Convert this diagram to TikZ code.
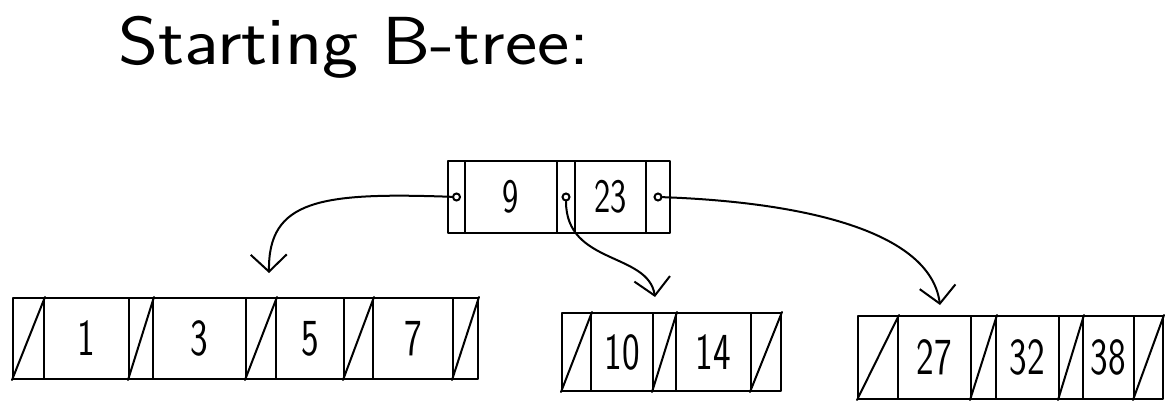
\documentclass[tikz,border=0pt]{standalone}
\usepackage{graphicx}
\usetikzlibrary{arrows.meta}
\newcommand\hdig[1]{\scalebox{0.72}[1]{#1}}
\begin{document}
\begin{tikzpicture}[x=1pt,y=-1pt,
  hand/.style={line width=2pt, line cap=round, line join=round},
  cellbox/.style={draw, hand, rectangle, anchor=north west, inner sep=0pt,
    font=\sffamily\fontsize{52}{52}\selectfont},
  rootcell/.style={cellbox, minimum height=72pt, font=\sffamily\fontsize{48}{48}\selectfont},
  leafa/.style={cellbox, minimum height=81pt},
  leafb/.style={cellbox, minimum height=78pt},
  leafc/.style={cellbox, minimum height=83pt},
  dotc/.style={draw, circle, line width=2pt, inner sep=0pt, minimum size=7pt},
  link/.style={hand, -{Straight Barb[length=17pt,width=36pt]}},
  titlefont/.style={font=\sffamily\fontsize{68}{68}\selectfont}]
\useasboundingbox (0,0) rectangle (1165,412);

% title
\node[titlefont, anchor=base west, inner sep=0pt] (title) at (118,65) {\scalebox{1.13}[1]{Starting B-tree:}};

% root
\node[rootcell, minimum width=17pt] (Rp0) at (447,160) {};
\node[rootcell, minimum width=92pt] (Rk1) at (464,160) {\hdig{9}};
\node[rootcell, minimum width=18pt] (Rp1) at (556,160) {};
\node[rootcell, minimum width=71pt] (Rk2) at (574,160) {\hdig{23}};
\node[rootcell, minimum width=24pt] (Rp2) at (645,160) {};
\node[dotc] (d0) at (Rp0.center) {};
\node[dotc] (d1) at (Rp1.center) {};
\node[dotc] (d2) at (Rp2.center) {};

% leaf 1
\node[leafa, minimum width=31pt] (L1p0) at (12,297) {};
\node[leafa, minimum width=85pt] (L1k1) at (43,297) {\hdig{1}};
\node[leafa, minimum width=24pt] (L1p1) at (128,297) {};
\node[leafa, minimum width=93pt] (L1k2) at (152,297) {\hdig{3}};
\node[leafa, minimum width=30pt] (L1p2) at (245,297) {};
\node[leafa, minimum width=68pt] (L1k3) at (275,297) {\hdig{5}};
\node[leafa, minimum width=29pt] (L1p3) at (343,297) {};
\node[leafa, minimum width=80pt] (L1k4) at (372,297) {\hdig{7}};
\node[leafa, minimum width=25pt] (L1p4) at (452,297) {};

% leaf 2
\node[leafb, minimum width=29pt] (L2p0) at (561,312) {};
\node[leafb, minimum width=62pt] (L2k1) at (590,312) {\hdig{10}};
\node[leafb, minimum width=23pt] (L2p1) at (652,312) {};
\node[leafb, minimum width=75pt] (L2k2) at (675,312) {\hdig{14}};
\node[leafb, minimum width=30pt] (L2p2) at (750,312) {};

% leaf 3
\node[leafc, minimum width=40pt] (L3p0) at (857,315) {};
\node[leafc, minimum width=73pt] (L3k1) at (897,315) {\hdig{27}};
\node[leafc, minimum width=25pt] (L3p1) at (970,315) {};
\node[leafc, minimum width=63pt] (L3k2) at (995,315) {\hdig{32}};
\node[leafc, minimum width=24pt] (L3p2) at (1058,315) {};
\node[leafc, minimum width=51pt] (L3k3) at (1082,315) {\hdig{38}};
\node[leafc, minimum width=29pt] (L3p3) at (1133,315) {};

% null-pointer slashes
\foreach \c in {L1p0,L1p1,L1p2,L1p3,L1p4,L2p0,L2p1,L2p2,L3p0,L3p1,L3p2,L3p3}
  \draw[hand] (\c.south west) -- (\c.north east);

% arrow targets
\coordinate (t1) at (269,273);
\coordinate (t2) at (655,297);
\coordinate (t3) at (940,305);

% links
\draw[link] (d0) .. controls (320,192) and (268,200) .. (t1);
\draw[link] (d1) .. controls (566,265) and (648,252) .. (t2);
\draw[link] (d2) .. controls (800,202) and (930,230) .. (t3);
\end{tikzpicture}
\end{document}
